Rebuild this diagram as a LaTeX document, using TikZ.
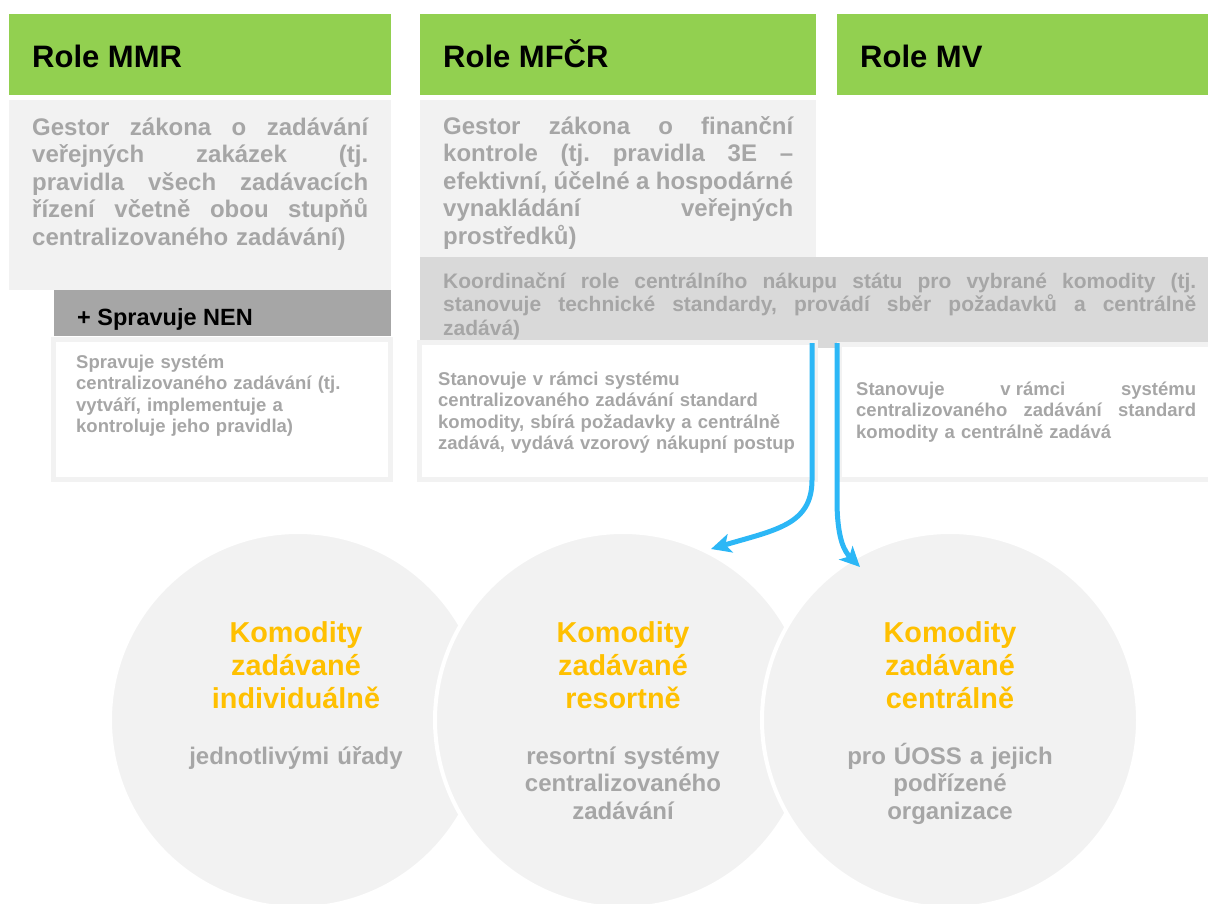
\documentclass[tikz,border=0pt]{standalone}
\usepackage{fontspec}
\setmainfont{Liberation Sans}
\usetikzlibrary{arrows.meta}
\definecolor{hdrgreen}{HTML}{92D050}
\definecolor{lightbg}{HTML}{F2F2F2}
\definecolor{coordbg}{HTML}{D9D9D9}
\definecolor{nenbg}{HTML}{A6A6A6}
\definecolor{txtgray}{HTML}{A6A6A6}
\definecolor{orangetxt}{HTML}{FFC000}
\definecolor{arrowblue}{HTML}{2CB7F6}
\newcommand\jl[1]{{\spaceskip=0pt\xspaceskip=0pt\frenchspacing\makebox[\linewidth][s]{#1}}}
\tikzset{
  hdrbox/.style={fill=hdrgreen, draw=none},
  hdr/.style={anchor=base west, inner sep=0pt, font=\fontsize{31}{36}\selectfont\bfseries, text=black},
  bodytxt/.style={anchor=base west, inner sep=0pt, align=left, text=txtgray, font=\fontsize{24}{27.5}\selectfont\bfseries},
  coordtxt/.style={anchor=base west, inner sep=0pt, align=left, text=txtgray, font=\fontsize{21}{23.5}\selectfont\bfseries},
  smalltxt/.style={anchor=base west, inner sep=0pt, align=left, text=txtgray, font=\fontsize{18.5}{21.5}\selectfont\bfseries},
  whitebox/.style={fill=white, draw=lightbg, line width=5pt},
  circ/.style={circle, minimum size=376pt, inner sep=0pt, fill=lightbg, draw=white, line width=4pt},
  ctitle/.style={anchor=base, inner sep=0pt, align=center, text width=320pt, text=orangetxt, font=\fontsize{28.8}{33}\selectfont\bfseries},
  csub/.style={anchor=base, inner sep=0pt, align=center, text width=320pt, text=txtgray, font=\fontsize{24}{27.5}\selectfont\bfseries},
  bluearrow/.style={draw=arrowblue, line width=5pt, -{Stealth[length=20pt,width=19pt,inset=5pt]}}
}
\begin{document}
\begin{tikzpicture}[x=1pt,y=-1pt]
\useasboundingbox (0,0) rectangle (1208,903);
% headers
\fill[hdrgreen] (9,14) rectangle (391,95);
\fill[hdrgreen] (420,14) rectangle (816,95);
\fill[hdrgreen] (837,14) rectangle (1208,95);
\node[hdr] (hmmr) at (32,67) {Role MMR};
\node[hdr] (hmf) at (443,67) {Role MFČR};
\node[hdr] (hmv) at (860,67) {Role MV};
% gray boxes
\fill[lightbg] (9,100) rectangle (391,290);
\fill[lightbg] (420,100) rectangle (816,257);
\fill[coordbg] (420,257) rectangle (1208,348);
\fill[nenbg] (54,290) rectangle (391,336);
\node[bodytxt, text width=336pt] (tmmr) at (32,135) {%
\jl{Gestor zákona o zadávání}\\
\jl{veřejných zakázek (tj.}\\
\jl{pravidla všech zadávacích}\\
\jl{řízení včetně obou stupňů}\\
centralizovaného zadávání)};
\node[bodytxt, text width=350pt] (tmf) at (443,134) {%
\jl{Gestor zákona o finanční}\\
\jl{kontrole (tj. pravidla 3E –}\\
\jl{efektivní, účelné a hospodárné}\\
\jl{vynakládání veřejných}\\
prostředků)};
\node[coordtxt, text width=753pt] (tcoord) at (443,288) {%
\jl{Koordinační role centrálního nákupu státu pro vybrané komodity (tj.}\\
\jl{stanovuje technické standardy, provádí sběr požadavků a centrálně}\\
zadává)};
\node[anchor=base west, inner sep=0pt, font=\fontsize{23.5}{27}\selectfont\bfseries] (tnen) at (77,325) {+ Spravuje NEN};
% white boxes
\draw[whitebox] (53.5,339.5) rectangle (390.5,479.5);
\draw[whitebox] (419.5,342.5) rectangle (815,479.5);
\draw[whitebox] (839,344.5) rectangle (1215,479.5);
\node[smalltxt, text width=310pt] (smmr) at (76,368) {%
Spravuje systém\\
centralizovaného zadávání (tj.\\
vytváří, implementuje a\\
kontroluje jeho pravidla)};
\node[smalltxt, text width=365pt] (smf) at (438,385) {%
Stanovuje v rámci systému\\
centralizovaného zadávání standard\\
komodity, sbírá požadavky a centrálně\\
zadává, vydává vzorový nákupní postup};
\node[smalltxt, text width=340pt] (smv) at (856,395) {%
\jl{Stanovuje\hfill v rámci\hfill systému}\\
\jl{centralizovaného zadávání standard}\\
komodity a centrálně zadává};
% circles
\node[circ] (c1) at (298,720) {};
\node[circ] (c2) at (623,720) {};
\node[circ] (c3) at (950,720) {};
\node[ctitle] (k1) at (296,642) {Komodity\\zadávané\\individuálně};
\node[csub] (s1) at (296,764) {jednotlivými úřady};
\node[ctitle] (k2) at (623,642) {Komodity\\zadávané\\resortně};
\node[csub] (s2) at (623,764) {resortní systémy\\centralizovaného\\zadávání};
\node[ctitle] (k3) at (950,642) {Komodity\\zadávané\\centrálně};
\node[csub] (s3) at (950,764) {pro ÚOSS a jejich\\podřízené\\organizace};
% arrows
\coordinate (a1s) at (812,343);
\coordinate (a1m) at (812,480);
\coordinate (a1e) at (711,549);
\coordinate (a2s) at (837,343);
\coordinate (a2m) at (837,500);
\coordinate (a2e) at (860,567);
\draw[bluearrow] (a1s) -- (a1m) .. controls (812,525) and (775,530) .. (a1e);
\draw[bluearrow] (a2s) -- (a2m) .. controls (837,540) and (845,552) .. (a2e);
\end{tikzpicture}
\end{document}
